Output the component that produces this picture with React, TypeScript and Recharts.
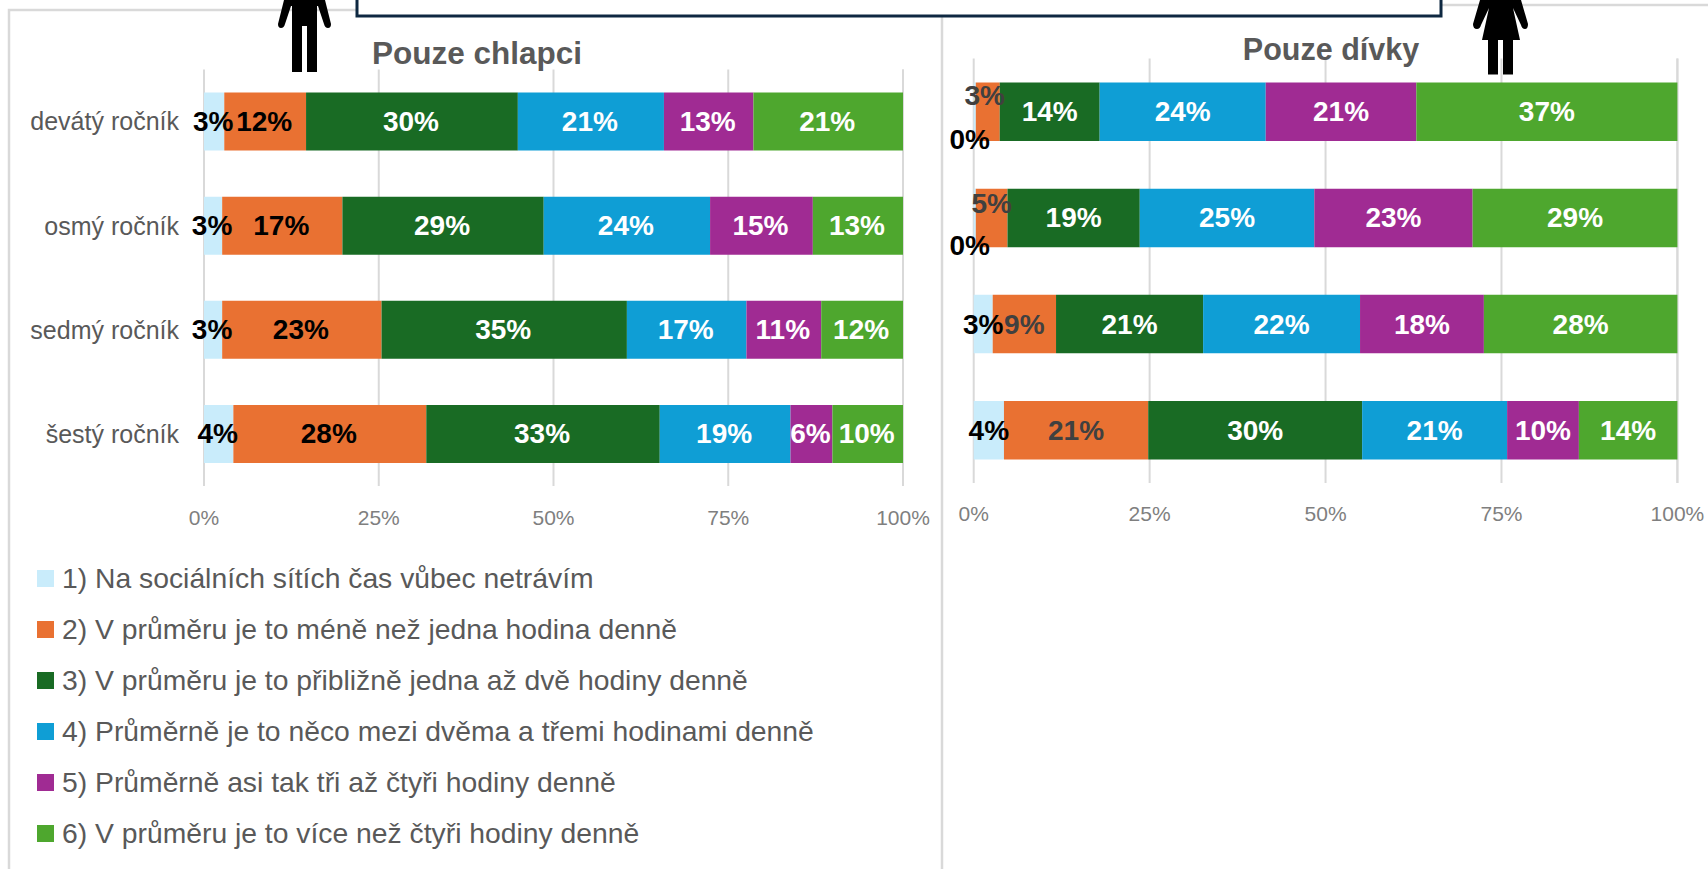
import React from 'react';
import { BarChart, Bar, XAxis, YAxis, CartesianGrid, Legend, LabelList } from 'recharts';

const FONT = '"Liberation Sans", Arial, sans-serif';

const grades = ['devátý ročník', 'osmý ročník', 'sedmý ročník', 'šestý ročník'];
const xTicks = [0, 25, 50, 75, 100];

const seriesNames = [
  '1) Na sociálních sítích čas vůbec netrávím',
  '2) V průměru je to méně než jedna hodina denně',
  '3) V průměru je to přibližně jedna až dvě hodiny denně',
  '4) Průměrně je to něco mezi dvěma a třemi hodinami denně',
  '5) Průměrně asi tak tři až čtyři hodiny denně',
  '6) V průměru je to více než čtyři hodiny denně',
];
const seriesColors = ['#c9ecfb', '#e97132', '#196b24', '#0f9ed5', '#a02b93', '#4ea72e'];

// values per answer, rows in order of grades
const boys1 = [2.9, 2.6, 2.6, 4.2];
const boys2 = [11.7, 17.2, 22.8, 27.6];
const boys3 = [30.3, 28.8, 35.1, 33.4];
const boys4 = [20.9, 23.8, 17.1, 18.7];
const boys5 = [12.8, 14.7, 10.7, 6.0];
const boys6 = [21.4, 12.9, 11.7, 10.1];

const girls1 = [0.3, 0.3, 2.7, 4.3];
const girls2 = [3.4, 4.5, 9.0, 20.5];
const girls3 = [14.2, 18.8, 20.9, 30.4];
const girls4 = [23.6, 24.8, 22.3, 20.6];
const girls5 = [21.4, 22.5, 17.6, 10.2];
const girls6 = [37.1, 29.1, 27.5, 14.0];

const toRows = (cols: number[][]) =>
  grades.map((grade, i) => {
    const row: Record<string, string | number> = { grade };
    cols.forEach((c, s) => { row[`s${s}`] = c[i]; });
    return row;
  });

const boysData = toRows([boys1, boys2, boys3, boys4, boys5, boys6]);
const girlsData = toRows([girls1, girls2, girls3, girls4, girls5, girls6]);

// hand-moved data labels on the girls side: "series-row" -> [dx, dy]
const girlsNudge: Record<string, [number, number]> = {
  '0-0': [-5, 28],
  '0-1': [-5, 28],
  '1-0': [-3, -16],
  '1-1': [0, -14],
};
const girlsGrey = ['1-0', '1-1', '1-2', '1-3'];

const makeLabel = (series: number, side: 'boys' | 'girls') => (props: any) => {
  const { x, y, width, height, value, index } = props;
  const key = `${series}-${index}`;
  const nudge = side === 'girls' ? girlsNudge[key] || [0, 0] : [0, 0];
  let fill = series < 2 ? '#000000' : '#ffffff';
  if (side === 'girls' && girlsGrey.includes(key)) fill = '#404040';
  return (
    <text
      x={x + width / 2 + nudge[0] - (side === 'boys' ? 1 : 0)}
      y={y + height / 2 + nudge[1]}
      textAnchor="middle"
      dominantBaseline="central"
      fontFamily={FONT}
      fontWeight={700}
      fontSize={28}
      fill={fill}
    >
      {Math.round(value)}%
    </text>
  );
};

const LegendList = () => (
  <div>
    {seriesNames.map((name, i) => (
      <div key={name} style={{ display: 'flex', alignItems: 'center', height: 51 }}>
        <span style={{ width: 17, height: 17, background: seriesColors[i], marginRight: 8, flex: 'none' }} />
        <span style={{ fontFamily: FONT, fontSize: 28.3, color: '#595959', whiteSpace: 'nowrap' }}>{name}</span>
      </div>
    ))}
  </div>
);

const renderBars = (side: 'boys' | 'girls') =>
  seriesNames.map((name, s) => (
    <Bar
      key={name}
      dataKey={`s${s}`}
      name={name}
      stackId="a"
      fill={seriesColors[s]}
      isAnimationActive={false}
    >
      <LabelList dataKey={`s${s}`} content={makeLabel(s, side)} />
    </Bar>
  ));

const xTick = { fontFamily: FONT, fontSize: 21, fill: '#7f7f7f' };

export default function App() {
  return (
    <div style={{ position: 'fixed', left: 0, top: 0, width: 1708, height: 869, background: '#fff', overflow: 'hidden' }}>
      <div style={{ position: 'absolute', left: 0, top: 0 }}>
        <BarChart
          width={942}
          height={869}
          data={boysData}
          layout="vertical"
          barSize={58}
          margin={{ top: 69.5, right: 39, bottom: 333, left: 0 }}
        >
          <CartesianGrid horizontal={false} stroke="#d9d9d9" strokeWidth={2} />
          <XAxis
            type="number"
            domain={[0, 100]}
            ticks={xTicks}
            interval={0}
            height={50}
            axisLine={false}
            tickLine={false}
            tickMargin={18}
            tickFormatter={(v: number) => `${v}%`}
            tick={xTick}
          />
          <YAxis
            type="category"
            dataKey="grade"
            width={204}
            axisLine={false}
            tickLine={false}
            tickSize={0}
            tickMargin={25}
            interval={0}
            tick={{ fontFamily: FONT, fontSize: 25, fill: '#595959' }}
          />
          <Legend
            layout="horizontal"
            verticalAlign="middle"
            content={<LegendList />}
            wrapperStyle={{ position: 'absolute', left: 37, top: 553, width: 880 }}
          />
          {renderBars('boys')}
        </BarChart>
      </div>

      <div style={{ position: 'absolute', left: 942, top: 0 }}>
        <BarChart
          width={766}
          height={869}
          data={girlsData}
          layout="vertical"
          barSize={58.5}
          margin={{ top: 58.5, right: 30.6, bottom: 336, left: 31.7 }}
        >
          <CartesianGrid horizontal={false} stroke="#d9d9d9" strokeWidth={2} />
          <XAxis
            type="number"
            domain={[0, 100]}
            ticks={xTicks}
            interval={0}
            height={50}
            axisLine={false}
            tickLine={false}
            tickMargin={17}
            tickFormatter={(v: number) => `${v}%`}
            tick={xTick}
          />
          <YAxis type="category" dataKey="grade" hide />
          {renderBars('girls')}
        </BarChart>
      </div>

      {/* frame, box, titles and the two figures sit on top of the charts */}
      <svg width={1708} height={869} style={{ position: 'absolute', left: 0, top: 0, pointerEvents: 'none' }}>
        <path d="M9 869V10H356M1441 5H1708M942 16V869" fill="none" stroke="#d9d9d9" strokeWidth={2.5} />
        <rect x={357} y={-10} width={1084} height={26} fill="#fff" stroke="#0e2841" strokeWidth={3} />
        <text x={477} y={53} textAnchor="middle" dominantBaseline="central" fontFamily={FONT} fontWeight={700} fontSize={31.5} fill="#595959">
          Pouze chlapci
        </text>
        <text x={1331} y={49} textAnchor="middle" dominantBaseline="central" fontFamily={FONT} fontWeight={700} fontSize={30.5} fill="#595959">
          Pouze dívky
        </text>
        <path
          d="M284 0H325L331 24Q331 28 328 28Q325 28 324 24L318 6H317V72H307V26H302V72H292V6H291L285 24Q284 28 281 28Q278 28 278 24Z"
          fill="#000"
        />
        <path
          d="M1480 0H1521L1528 24Q1528 29 1525 29Q1522 29 1521 25L1513 8L1520 40H1513V74.5H1503V40H1498V74.5H1488V40H1482L1489 8L1481 25Q1480 29 1477 29Q1473 29 1473 24Z"
          fill="#000"
        />
      </svg>
    </div>
  );
}
